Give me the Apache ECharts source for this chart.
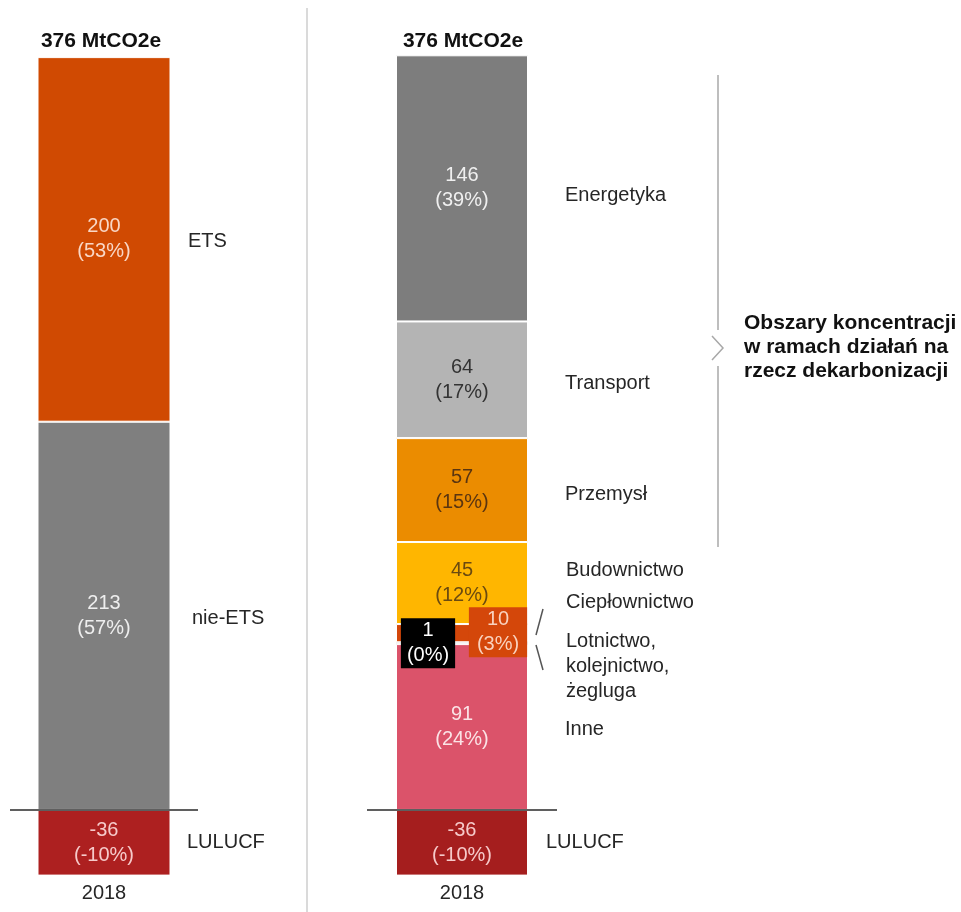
<!DOCTYPE html>
<html>
<head>
<meta charset="utf-8">
<script src="https://cdn.jsdelivr.net/npm/echarts@6/dist/echarts.min.js"></script>
<style>
  html, body { margin: 0; padding: 0; background: #ffffff; }
  #chart { width: 961px; height: 912px; }
</style>
</head>
<body>
<div id="chart"></div>
<script>
// Emissions 2018, MtCO2e
const categories = ['2018'];
const totalLabel = '376 MtCO2e';

// Left column: non-ETS / ETS split, stacked bottom to top
const splitNames = ['nie-ETS', 'ETS', 'LULUCF'];
const splitValues = [213, 200, -36];
const splitShares = [57, 53, -10];

// Right column: sectors, stacked bottom to top
const sectorNames = ['Inne', 'Lotnictwo, kolejnictwo, żegluga', 'Ciepłownictwo', 'Budownictwo', 'Przemysł', 'Transport', 'Energetyka', 'LULUCF'];
const sectorValues = [91, 1, 10, 45, 57, 64, 146, -36];
const sectorShares = [24, 0, 3, 12, 15, 17, 39, -10];

const focusText = 'Obszary koncentracji\nw ramach działań na\nrzecz dekarbonizacji';

const FONT = 'Liberation Sans, Arial, sans-serif';

const splitStyle = {
  'ETS':     { color: '#D04A02', text: '#F9D7C6' },
  'nie-ETS': { color: '#7F7F7F', text: '#EEEEEE' },
  'LULUCF':  { color: '#AD2020', text: '#F6CACA' }
};
// thin segments carry their value in a boxed callout beside the stack
const sectorStyle = {
  'Inne':                            { color: '#DB536A', text: '#FBE3E6' },
  'Lotnictwo, kolejnictwo, żegluga': { color: '#000000', text: '#FFFFFF', box: '#000000', offset: [-34, 0], pad: [0, 6] },
  'Ciepłownictwo':                   { color: '#D4470A', text: '#F9D2BE', box: '#D4470A', offset: [36, -1], pad: [0, 8] },
  'Budownictwo':                     { color: '#FFB600', text: '#6A4A10' },
  'Przemysł':                        { color: '#EB8C00', text: '#5A3510' },
  'Transport':                       { color: '#B4B4B4', text: '#333333' },
  'Energetyka':                      { color: '#7D7D7D', text: '#F0F0F0' },
  'LULUCF':                          { color: '#A51E1E', text: '#F6CACA' }
};

function valueLabel(value, share, style, show) {
  const label = {
    show: show,
    position: 'inside',
    fontFamily: FONT,
    fontSize: 20,
    lineHeight: 25,
    color: style.text,
    formatter: value + '\n(' + share + '%)'
  };
  if (style.box) {
    label.backgroundColor = style.box;
    label.padding = style.pad;
    label.offset = style.offset;
  }
  return label;
}

function barSeries(name, value, share, style, axisIndex, stack, width) {
  return {
    type: 'bar',
    name: name,
    xAxisIndex: axisIndex,
    yAxisIndex: axisIndex,
    stack: stack,
    barWidth: width,
    z: 2,
    clip: false,
    silent: true,
    itemStyle: { color: style.color, borderColor: '#ffffff', borderWidth: 1 },
    label: valueLabel(value, share, style, !style.box),
    data: [value]
  };
}

// transparent twin stack that only carries the boxed callouts, drawn above all bars
function calloutSeries(name, value, share, style, width) {
  return {
    type: 'bar',
    name: name + ' ',
    xAxisIndex: 1,
    yAxisIndex: 1,
    stack: 'sectorCallout',
    barWidth: width,
    barGap: '-100%',
    z: 5,
    clip: false,
    silent: true,
    itemStyle: { color: 'rgba(0,0,0,0)' },
    label: valueLabel(value, share, style, !!style.box),
    data: [value]
  };
}

const zeroLine = {
  silent: true,
  symbol: 'none',
  label: { show: false },
  lineStyle: { color: '#2a2a2a', width: 1.5, type: 'solid' },
  data: [{ yAxis: 0 }]
};

const series = [];
splitNames.forEach((n, i) => {
  series.push(barSeries(n, splitValues[i], splitShares[i], splitStyle[n], 0, 'split', 133));
});
sectorNames.forEach((n, i) => {
  series.push(barSeries(n, sectorValues[i], sectorShares[i], sectorStyle[n], 1, 'sector', 132));
});
series[splitNames.length - 1].markLine = zeroLine;
series[series.length - 1].markLine = zeroLine;
sectorNames.forEach((n, i) => {
  series.push(calloutSeries(n, sectorValues[i], sectorShares[i], sectorStyle[n], 132));
});

const axisX = (gi) => ({
  type: 'category',
  gridIndex: gi,
  data: categories,
  axisLine: { show: false, onZero: false },
  axisTick: { show: false },
  axisLabel: { fontFamily: FONT, fontSize: 20, color: '#262626', margin: 1 }
});
const axisY = (gi) => ({
  type: 'value', gridIndex: gi, min: -40, max: 414, show: false, splitLine: { show: false }
});

// side annotations
const textStyle = (extra) => Object.assign({ fontFamily: FONT, fontSize: 20, fill: '#262626', verticalAlign: 'middle' }, extra);
const sideLabels = [
  ['ETS', 188, 241], ['nie-ETS', 192, 618], ['LULUCF', 187, 842],
  ['Energetyka', 565, 195], ['Transport', 565, 383], ['Przemysł', 565, 494],
  ['Budownictwo', 566, 570], ['Ciepłownictwo', 566, 602],
  ['Lotnictwo,', 566, 641], ['kolejnictwo,', 566, 666], ['żegluga', 566, 691],
  ['Inne', 565, 729], ['LULUCF', 546, 842]
];
const graphic = [
  { type: 'line', shape: { x1: 307, y1: 8, x2: 307, y2: 912 }, style: { stroke: '#DADADA', lineWidth: 2 }, silent: true },
  { type: 'text', x: 101, y: 41, style: textStyle({ text: totalLabel, fontSize: 21, fontWeight: 'bold', fill: '#111111', align: 'center' }) },
  { type: 'text', x: 463, y: 41, style: textStyle({ text: totalLabel, fontSize: 21, fontWeight: 'bold', fill: '#111111', align: 'center' }) },
  // bracket around the focus sectors
  { type: 'line', shape: { x1: 718, y1: 75, x2: 718, y2: 330 }, style: { stroke: '#A8A8A8', lineWidth: 1.5 }, silent: true },
  { type: 'polyline', shape: { points: [[712, 336], [723, 348], [712, 360]] }, style: { stroke: '#A8A8A8', lineWidth: 1.5, fill: null }, silent: true },
  { type: 'line', shape: { x1: 718, y1: 366, x2: 718, y2: 547 }, style: { stroke: '#A8A8A8', lineWidth: 1.5 }, silent: true },
  { type: 'text', x: 744, y: 347, style: textStyle({ text: focusText, fontSize: 21, fontWeight: 'bold', fill: '#111111', lineHeight: 24 }) },
  // pointers for the two thin segments
  { type: 'line', shape: { x1: 543, y1: 609, x2: 536, y2: 635 }, style: { stroke: '#555555', lineWidth: 1.5 }, silent: true },
  { type: 'line', shape: { x1: 536, y1: 645, x2: 543, y2: 670 }, style: { stroke: '#555555', lineWidth: 1.5 }, silent: true }
];
sideLabels.forEach(([t, x, y]) => {
  graphic.push({ type: 'text', x: x, y: y, style: textStyle({ text: t }) });
});

const chart = echarts.init(document.getElementById('chart'), null, { renderer: 'canvas' });
chart.setOption({
  animation: false,
  backgroundColor: '#ffffff',
  grid: [
    { left: 10, width: 188, top: 55.3, bottom: 29.1 },
    { left: 367, width: 190, top: 55.3, bottom: 29.1 }
  ],
  xAxis: [axisX(0), axisX(1)],
  yAxis: [axisY(0), axisY(1)],
  series: series,
  graphic: graphic
});
</script>
</body>
</html>
